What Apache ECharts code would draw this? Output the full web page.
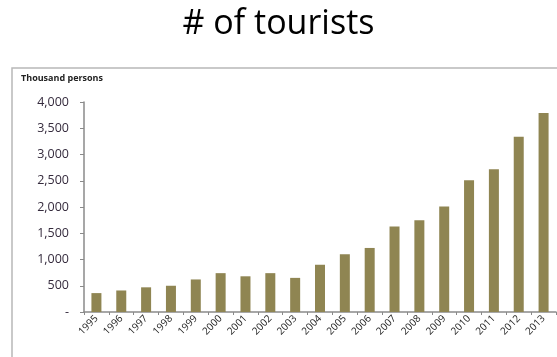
<!DOCTYPE html>
<html>
<head>
<meta charset="utf-8">
<script src="https://cdn.jsdelivr.net/npm/echarts@6/dist/echarts.min.js"></script>
<style>
  html, body { margin: 0; padding: 0; background: #fff; }
  #chart { width: 557px; height: 357px; }
</style>
</head>
<body>
<div id="chart"></div>
<script>
  // 游客人数（千人）
  var years = ['1995', '1996', '1997', '1998', '1999', '2000', '2001', '2002', '2003', '2004',
    '2005', '2006', '2007', '2008', '2009', '2010', '2011', '2012', '2013']
  var tourists = [360, 410, 470, 500, 620, 740, 680, 740, 650, 900,
    1100, 1220, 1630, 1750, 2010, 2510, 2720, 3340, 3790]

  var chart = echarts.init(document.getElementById('chart'))
  chart.setOption({
    animation: false,
    title: {
      text: '# of tourists',
      left: 'center',
      top: 2,
      textStyle: {
        color: '#000',
        fontSize: 34,
        fontWeight: 'normal',
        fontFamily: 'Open Sans'
      }
    },
    graphic: [
      {
        type: 'rect',
        shape: { x: 12, y: 68, width: 560, height: 300 },
        style: { fill: 'none', stroke: '#b8b8b8', lineWidth: 1.5 }
      },
      {
        type: 'text',
        left: 21,
        top: 74,
        style: {
          text: 'Thousand persons',
          fill: '#222',
          font: 'bold 9px "Open Sans"'
        }
      }
    ],
    grid: { left: 84, right: 1, top: 102, bottom: 45 },
    xAxis: {
      type: 'category',
      data: years,
      axisLine: { lineStyle: { color: '#8a8a8a', width: 1.5 } },
      axisTick: { show: true, length: 3, lineStyle: { color: '#8a8a8a' } },
      axisLabel: {
        rotate: 45,
        interval: 0,
        margin: 5,
        fontSize: 10,
        color: '#222',
        fontFamily: 'Open Sans'
      }
    },
    yAxis: {
      type: 'value',
      min: 0,
      max: 4000,
      interval: 500,
      splitLine: { show: false },
      axisLine: { show: true, lineStyle: { color: '#8a8a8a', width: 1.5 } },
      axisTick: { show: true, length: 4, lineStyle: { color: '#8a8a8a' } },
      axisLabel: {
        margin: 15,
        fontSize: 12.5,
        color: '#352b3d',
        fontFamily: 'Open Sans',
        formatter: function (v) {
          return v === 0 ? '-' : v.toLocaleString('en-US')
        }
      }
    },
    series: [
      {
        name: 'tourists',
        type: 'bar',
        data: tourists,
        barWidth: 10,
        itemStyle: { color: '#8f8552' }
      }
    ]
  })
</script>
</body>
</html>
